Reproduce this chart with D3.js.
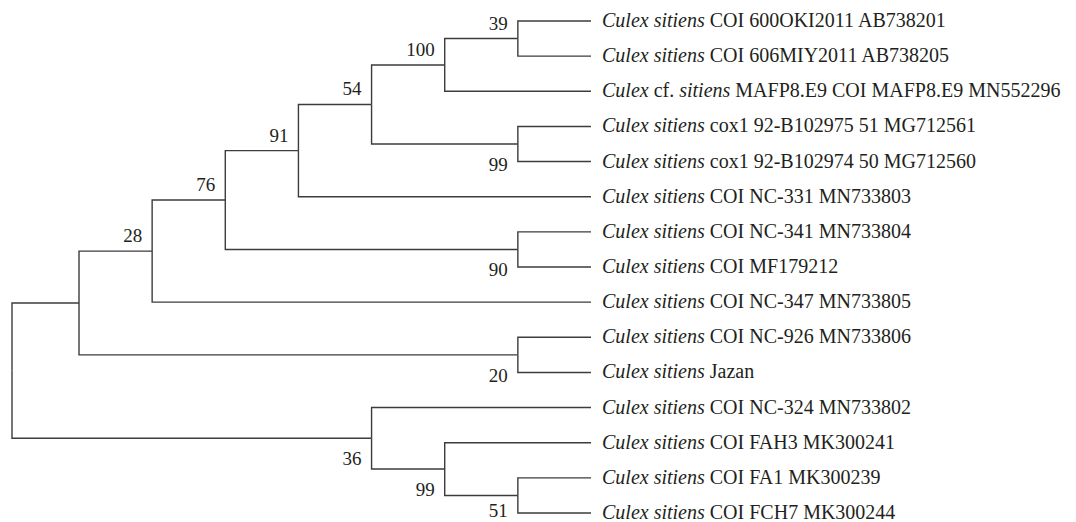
<!DOCTYPE html>
<html>
<head>
<meta charset="utf-8">
<script src="https://cdn.jsdelivr.net/npm/d3@7"></script>
<style>
  html, body { margin: 0; padding: 0; background: #fff; }
  svg { display: block; }
  text { font-family: "Liberation Serif", "DejaVu Serif", serif; fill: #231f20; }
</style>
</head>
<body>
<div id="chart"></div>
<script>
// ─── Data ─────────────────────────────────────────────────────
// leaves, top to bottom
const leafNames = [
  "Culex sitiens COI 600OKI2011 AB738201",
  "Culex sitiens COI 606MIY2011 AB738205",
  "Culex cf. sitiens MAFP8.E9 COI MAFP8.E9 MN552296",
  "Culex sitiens cox1 92-B102975 51 MG712561",
  "Culex sitiens cox1 92-B102974 50 MG712560",
  "Culex sitiens COI NC-331 MN733803",
  "Culex sitiens COI NC-341 MN733804",
  "Culex sitiens COI MF179212",
  "Culex sitiens COI NC-347 MN733805",
  "Culex sitiens COI NC-926 MN733806",
  "Culex sitiens Jazan",
  "Culex sitiens COI NC-324 MN733802",
  "Culex sitiens COI FAH3 MK300241",
  "Culex sitiens COI FA1 MK300239",
  "Culex sitiens COI FCH7 MK300244"
];
const leafParents = [
  "n39", "n39", "n100", "n99a", "n99a", "n91", "n90", "n90",
  "n28", "n20", "n20", "n36", "n99b", "n51", "n51"
];
// internal nodes: id, parent, bootstrap support
const nodeIds      = ["root", "a",    "n28", "n76", "n91", "n54", "n100", "n39",  "n99a", "n90", "n20", "n36",  "n99b", "n51"];
const nodeParents  = ["",     "root", "a",   "n28", "n76", "n91", "n54",  "n100", "n54",  "n76", "a",   "root", "n36",  "n99b"];
const nodeSupport  = [null,   null,   28,    76,    91,    54,    100,    39,     99,     90,    20,    36,     99,     51];

const italicWords = new Set(["Culex", "sitiens"]);

// ─── Build hierarchy ─────────────────────────────────────────
const table = nodeIds.map((id, i) => ({ id, parent: nodeParents[i] || null, support: nodeSupport[i] }))
  .concat(leafNames.map((name, i) => ({ id: name, parent: leafParents[i], support: null, leaf: true })));

const root = d3.stratify().id(d => d.id).parentId(d => d.parent)(table);
// keep leaves in picture order
const order = new Map(leafNames.map((n, i) => [n, i]));
root.eachAfter(n => {
  if (n.children) {
    n.children.sort((p, q) => p.minIdx - q.minIdx);
    n.minIdx = d3.min(n.children, c => c.minIdx);
  } else n.minIdx = order.get(n.id);
});

// ─── Dimensions & scales ─────────────────────────────────────
const W = 1076, H = 522;
const maxH = root.height;
const x = d3.scaleLinear().domain([0, maxH - 1, maxH]).range([591, 79, 12]);
const y = d3.scalePoint().domain(leafNames).range([21, 513]);

root.eachAfter(n => {
  n.px = x(n.height);
  n.py = n.children ? (n.children[0].py + n.children[n.children.length - 1].py) / 2 : y(n.id);
});

const svg = d3.select("#chart").append("svg")
  .attr("width", W).attr("height", H);

const lineColor = "#3c3c3c";

// ─── Branches (elbow) ────────────────────────────────────────
svg.append("g")
  .selectAll("path")
  .data(root.links())
  .join("path")
  .attr("fill", "none")
  .attr("stroke", lineColor)
  .attr("stroke-width", 1.4)
  .attr("d", l => `M${l.source.px},${l.source.py}V${l.target.py}H${l.target.px}`);

// ─── Bootstrap labels ────────────────────────────────────────
svg.append("g")
  .selectAll("text")
  .data(root.descendants().filter(n => n.data.support != null))
  .join("text")
  .attr("x", n => n.px - 10)
  .attr("y", n => {
    const upper = n.parent.children.indexOf(n) === 0;
    return upper ? n.py - 9 : Math.min(n.py + 27, H - 5);
  })
  .attr("text-anchor", "end")
  .style("font-size", "19px")
  .text(n => n.data.support);

// ─── Leaf labels ─────────────────────────────────────────────
const labels = svg.append("g")
  .selectAll("text")
  .data(root.leaves())
  .join("text")
  .attr("x", n => n.px + 11)
  .attr("y", n => n.py + 6)
  .style("font-size", "20px");

labels.each(function (n) {
  const t = d3.select(this);
  n.id.split(" ").forEach((w, i) => {
    t.append("tspan")
      .style("font-style", italicWords.has(w) ? "italic" : "normal")
      .text((i ? " " : "") + w);
  });
});
</script>
</body>
</html>
